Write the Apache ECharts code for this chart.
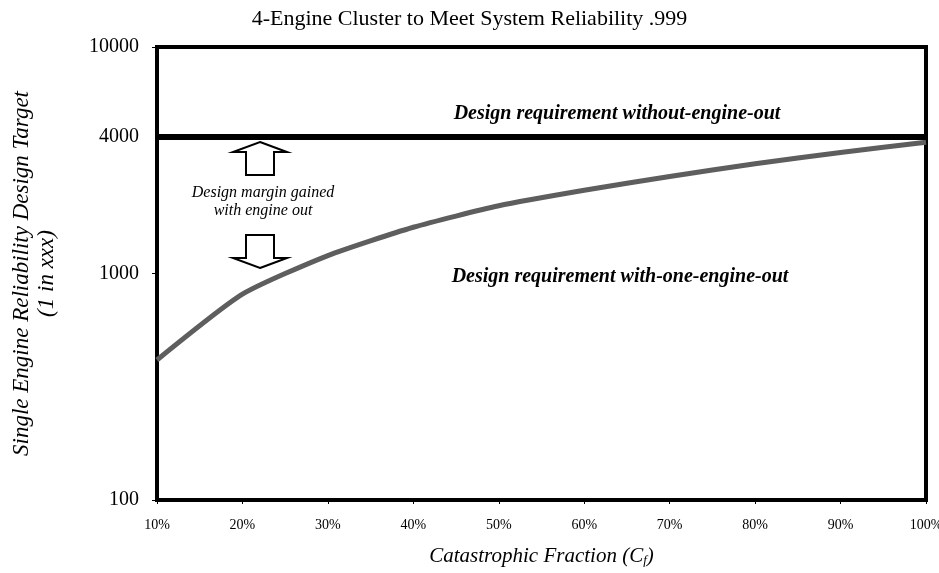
<!DOCTYPE html>
<html>
<head>
<meta charset="utf-8">
<script src="https://cdn.jsdelivr.net/npm/echarts@6/dist/echarts.min.js"></script>
<style>
  html, body { margin: 0; padding: 0; background: #fff; }
  #chart { width: 939px; height: 573px; }
</style>
</head>
<body>
<div id="chart"></div>
<script>
// catastrophic fraction (%) and required single engine reliability (1 in xxx)
var fractions = [10, 20, 30, 40, 50, 60, 70, 80, 90, 100];
var withEngineOut = [415, 810, 1200, 1600, 1990, 2330, 2680, 3050, 3420, 3800];
var withoutEngineOut = 4000;
var yMin = 100, yMax = 10000;

var FONT = '"Liberation Serif", "DejaVu Serif", serif';

var chart = echarts.init(document.getElementById('chart'));

// build [x, y] pairs for the curve
var curve = [];
for (var i = 0; i < fractions.length; i++) {
    curve.push([fractions[i], withEngineOut[i]]);
}

// hollow block arrow, pointing up (dir = -1) or down (dir = 1)
function arrow(cx, tipY, dir) {
    var headH = 10, headW = 27, shaftW = 14, shaftL = 23;
    var baseY = tipY - dir * headH;
    var endY = baseY - dir * shaftL;
    return {
        type: 'polygon',
        shape: { points: [
            [cx, tipY], [cx + headW, baseY], [cx + shaftW, baseY], [cx + shaftW, endY],
            [cx - shaftW, endY], [cx - shaftW, baseY], [cx - headW, baseY]
        ] },
        style: { fill: '#fff', stroke: '#000', lineWidth: 2 },
        z: 10
    };
}

function note(x, y, text, bold, size) {
    return {
        type: 'text', x: x, y: y, z: 10,
        style: {
            text: text, align: 'center', verticalAlign: 'middle',
            font: 'italic ' + (bold ? 'bold ' : '') + size + 'px ' + FONT,
            fill: '#000', lineHeight: 18
        }
    };
}

var option = {
    backgroundColor: '#fff',
    animation: false,
    title: {
        text: '4-Engine Cluster to Meet System Reliability .999',
        left: 'center', top: 3,
        textStyle: { fontFamily: FONT, fontSize: 22, fontWeight: 'normal', color: '#000' }
    },
    grid: {
        left: 157, right: 13, top: 47, bottom: 73,
        outerBoundsMode: 'none', containLabel: false,
        show: true, borderColor: '#000', borderWidth: 4
    },
    xAxis: {
        type: 'value', min: 10, max: 100, interval: 10,
        name: 'Catastrophic Fraction (C{sub|f})',
        nameLocation: 'middle', nameGap: 45,
        nameTextStyle: {
            fontFamily: FONT, fontSize: 21, fontStyle: 'italic', color: '#000',
            rich: { sub: { fontFamily: FONT, fontSize: 13, fontStyle: 'italic', color: '#000', verticalAlign: 'bottom', padding: [9, 0, 0, 0] } }
        },
        axisLine: { show: false },
        axisTick: { show: true, inside: false, length: 4, lineStyle: { color: '#000' } },
        splitLine: { show: false },
        axisLabel: {
            formatter: '{value}%', margin: 18,
            fontFamily: FONT, fontSize: 14, color: '#000'
        }
    },
    yAxis: {
        type: 'log', logBase: 10, min: yMin, max: yMax,
        name: 'Single Engine Reliability Design Target\n(1 in xxx)',
        nameLocation: 'middle', nameGap: 98,
        nameTextStyle: { fontFamily: FONT, fontSize: 23, fontStyle: 'italic', color: '#000', lineHeight: 25 },
        axisLine: { show: false },
        axisTick: { show: true, length: 5, lineStyle: { color: '#000' } },
        minorTick: { show: false },
        splitLine: { show: false },
        axisLabel: {
            margin: 18, fontFamily: FONT, fontSize: 20, color: '#000',
            formatter: function (v) { return String(Math.round(v)); }
        }
    },
    series: [
        {
            type: 'line',
            name: 'Design requirement with-one-engine-out',
            data: curve,
            smooth: 0.2,
            showSymbol: false,
            lineStyle: { color: '#5e5e5e', width: 5 },
            markLine: {
                silent: true,
                symbol: 'none',
                lineStyle: { color: '#000', width: 6, type: 'solid' },
                label: {
                    position: 'start', distance: 18, formatter: String(withoutEngineOut),
                    fontFamily: FONT, fontSize: 20, color: '#000'
                },
                data: [{ yAxis: withoutEngineOut }]
            }
        }
    ],
    graphic: [
        note(617, 114, 'Design requirement without-engine-out', true, 20),
        note(263, 202, 'Design margin gained\nwith engine out', false, 16),
        note(620, 277, 'Design requirement with-one-engine-out', true, 20),
        arrow(260, 142, -1),
        arrow(260, 268, 1)
    ]
};

chart.setOption(option);
</script>
</body>
</html>
